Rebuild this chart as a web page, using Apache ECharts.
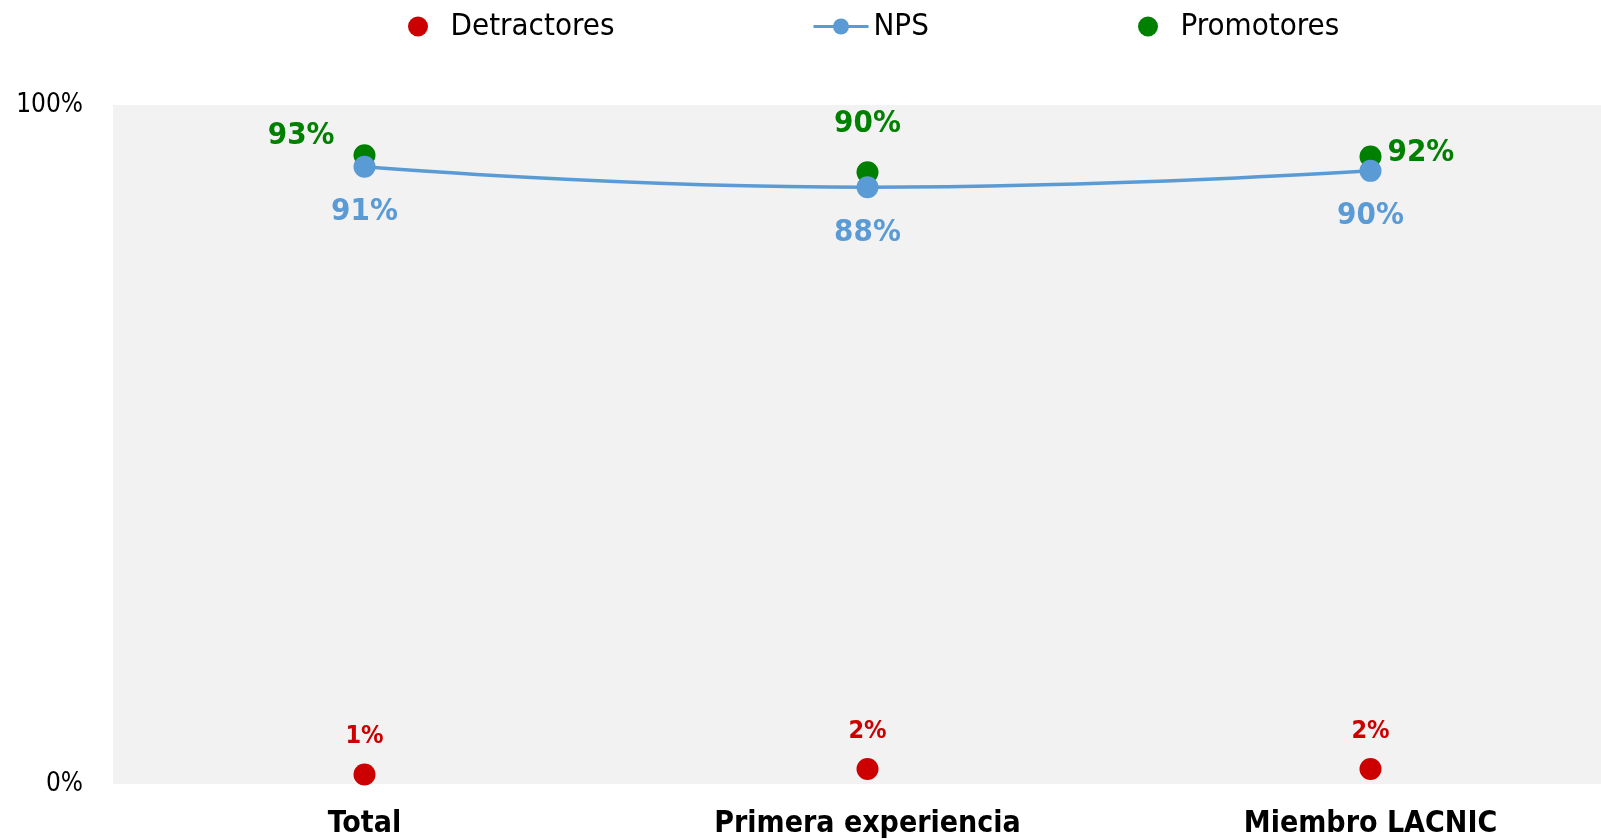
<!DOCTYPE html>
<html>
<head>
<meta charset="utf-8">
<title>NPS</title>
<script src="https://cdn.jsdelivr.net/npm/echarts@6/dist/echarts.min.js"></script>
<style>
  html, body { margin: 0; padding: 0; background: #fff; overflow: hidden; }
  /* el area gris sigue mas alla del borde derecho */
  #chart { width: 1622px; height: 839px; }
</style>
</head>
<body>
<div id="chart"></div>
<script>
// datos
const categorias = ['Total', 'Primera experiencia', 'Miembro LACNIC']
const detractores = [1.4, 2.2, 2.2]
const nps = [90.9, 87.9, 90.3]
const promotores = [92.6, 90.1, 92.4]
const ejeY = [0, 100]

const rojo = '#cc0000'
const azul = '#5b9bd5'
const verde = '#008000'
const fuente = 'DejaVu Sans Condensed, DejaVu Sans, sans-serif'

const pct = p => Math.round(p.value) + '%'

// posicion de la etiqueta de cada promotor
const posPromotores = [
  { position: 'left', distance: 19, offset: [0, -19] },
  { position: 'top', distance: 22 },
  { position: 'right', distance: 6, offset: [0, -4] }
]

const chart = echarts.init(document.getElementById('chart'))

const leyenda = (name, left) => ({
  data: [name],
  left: left,
  top: 6,
  itemWidth: 55,
  itemHeight: 20,
  itemGap: 5,
  lineStyle: { width: 3 },
  textStyle: { fontFamily: fuente, fontSize: 31, color: '#000' }
})

chart.setOption({
  backgroundColor: '#fff',
  animation: false,
  legend: [
    leyenda('Detractores', 403),
    leyenda('NPS', 807),
    leyenda('Promotores', 1133)
  ],
  grid: {
    left: 113,
    right: 0,
    top: 105,
    bottom: 55,
    show: true,
    backgroundColor: '#f2f2f2',
    borderWidth: 0
  },
  xAxis: {
    type: 'category',
    data: categorias,
    axisLine: { show: false },
    axisTick: { show: false },
    axisLabel: {
      margin: 25,
      fontFamily: fuente,
      fontWeight: 'bold',
      fontSize: 30,
      color: '#000'
    }
  },
  yAxis: {
    type: 'value',
    min: ejeY[0],
    max: ejeY[1],
    interval: 100,
    axisLine: { show: false },
    axisTick: { show: false },
    splitLine: { show: false },
    axisLabel: {
      margin: 30,
      formatter: '{value}%',
      fontFamily: fuente,
      fontSize: 26,
      color: '#000',
      padding: [3, 0, 0, 0]
    }
  },
  series: [
    {
      name: 'Detractores',
      type: 'scatter',
      data: detractores,
      symbolSize: 22,
      itemStyle: { color: rojo, opacity: 1 },
      label: {
        show: true,
        position: 'top',
        distance: 14,
        formatter: pct,
        color: rojo,
        fontFamily: fuente,
        fontWeight: 'bold',
        fontSize: 25
      }
    },
    {
      name: 'NPS',
      type: 'line',
      data: nps,
      smooth: true,
      symbol: 'circle',
      symbolSize: 22,
      lineStyle: { color: azul, width: 3.5 },
      itemStyle: { color: azul },
      label: {
        show: true,
        position: 'bottom',
        distance: 19,
        formatter: pct,
        color: azul,
        fontFamily: fuente,
        fontWeight: 'bold',
        fontSize: 31
      }
    },
    {
      name: 'Promotores',
      type: 'scatter',
      data: promotores.map((v, i) => ({ value: v, label: posPromotores[i] })),
      symbolSize: 22,
      itemStyle: { color: verde, opacity: 1 },
      label: {
        show: true,
        formatter: pct,
        color: verde,
        fontFamily: fuente,
        fontWeight: 'bold',
        fontSize: 31
      }
    }
  ]
})
</script>
</body>
</html>
